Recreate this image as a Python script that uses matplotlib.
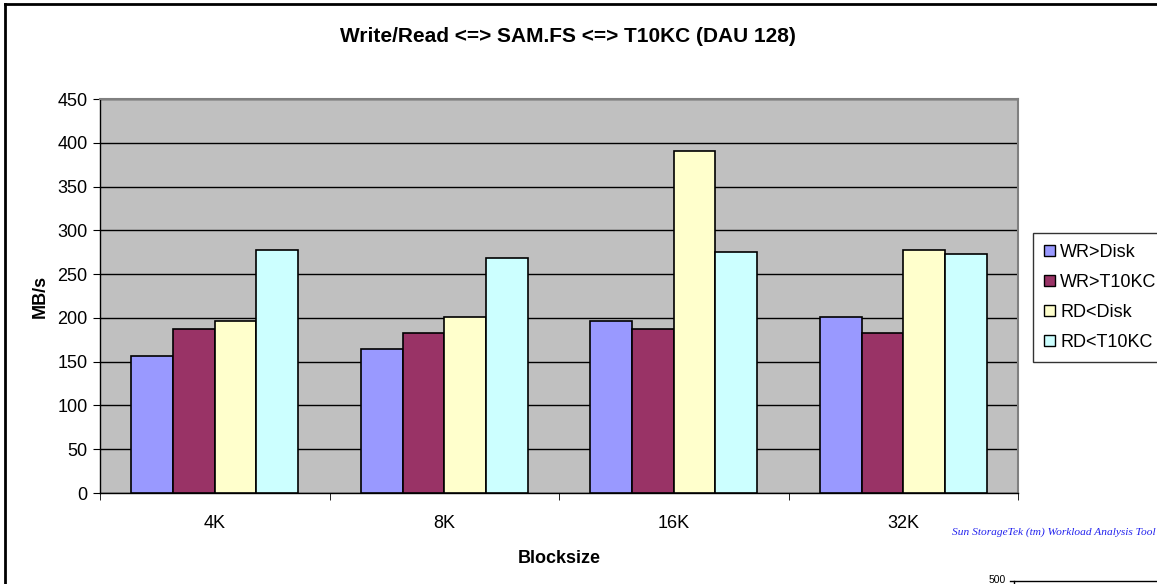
import matplotlib
matplotlib.use("Agg")
import matplotlib.pyplot as plt
import numpy as np
from matplotlib.lines import Line2D
from matplotlib.patches import Patch

plt.rcParams['font.family'] = ['Liberation Sans', 'DejaVu Sans']

# Throughput by block size (MB/s)
blocksizes = ["4K", "8K", "16K", "32K"]
series_names = ["WR>Disk", "WR>T10KC", "RD<Disk", "RD<T10KC"]
wr_disk = [157, 164, 196, 201]
wr_t10kc = [187, 183, 187, 183]
rd_disk = [196, 201, 391, 278]
rd_t10kc = [278, 268, 275, 273]
series_values = [wr_disk, wr_t10kc, rd_disk, rd_t10kc]
series_colors = ["#9999FF", "#993366", "#FFFFCC", "#CCFFFF"]
y_ticks = list(range(0, 451, 50))

W, H = 1157, 584
fig = plt.figure(figsize=(W / 100, H / 100), dpi=100)
ax = fig.add_axes([100 / W, 1 - 493 / H, (1018 - 100) / W, (493 - 99) / H])
ax.set_facecolor("#C0C0C0")

n = len(series_names)
bar_w = 1 / 5.5  # 150% gap width
x = np.arange(len(blocksizes))
for i, (vals, col) in enumerate(zip(series_values, series_colors)):
    offs = (i - (n - 1) / 2) * bar_w
    ax.bar(x + offs, vals, width=bar_w, color=col, edgecolor="black",
           linewidth=1.2, zorder=3, label=series_names[i])

ax.set_xlim(-0.5, len(blocksizes) - 0.5)
ax.set_ylim(0, 450)
ax.set_yticks(y_ticks)
ax.yaxis.grid(True, color="black", linewidth=1.0, zorder=1)
ax.set_axisbelow(True)

ax.set_xticks(x)
ax.set_xticklabels(blocksizes, fontsize=13)
ax.set_xticks(np.arange(len(blocksizes) + 1) - 0.5, minor=True)
ax.tick_params(axis="x", which="major", length=0, pad=16)
ax.tick_params(axis="x", which="minor", length=5, direction="out", color="black")
ax.tick_params(axis="y", length=5, direction="out", labelsize=13, pad=4)

for s in ("top", "right"):
    ax.spines[s].set_color("#808080")
    ax.spines[s].set_linewidth(1.5)
for s in ("left", "bottom"):
    ax.spines[s].set_color("black")
    ax.spines[s].set_linewidth(1.0)

ax.set_xlabel("Blocksize", fontsize=13, fontweight="bold", labelpad=13)
ax.set_ylabel("MB/s", fontsize=13, fontweight="bold", labelpad=6)

fig.text(568 / W, 1 - 36 / H, "Write/Read <=> SAM.FS <=> T10KC (DAU 128)",
         ha="center", va="center", fontsize=15, fontweight="bold")

# Legend
handles = [Patch(facecolor=c, edgecolor="black", linewidth=1.0) for c in series_colors]
leg = fig.legend(handles, series_names, loc="upper left",
                 bbox_to_anchor=(1033 / W, 1 - 233 / H), fontsize=13,
                 frameon=True, fancybox=False, handlelength=0.6, handleheight=0.6,
                 handletextpad=0.3, labelspacing=0.72, borderpad=0.6,
                 borderaxespad=0)
leg.get_frame().set_edgecolor("black")
leg.get_frame().set_linewidth(1.0)

# Tool credit
fig.text(1156 / W, 1 - 532 / H, "Sun StorageTek (tm) Workload Analysis Tool",
         ha="right", va="center", fontsize=8.2, style="italic",
         family="Liberation Serif", color="#2222EE")

# Chart border (left and top edges)
fig.add_artist(Line2D([5 / W, 5 / W], [0, 1 - 4 / H], color="black",
                      linewidth=2, transform=fig.transFigure))
fig.add_artist(Line2D([5 / W, 1], [1 - 4 / H, 1 - 4 / H], color="black",
                      linewidth=2, transform=fig.transFigure))

# Top edge of the next chart below
fig.text(1006 / W, 1 - 580 / H, "500", ha="right", va="center", fontsize=7.5)
fig.add_artist(Line2D([1010 / W, 1], [1 - 581 / H, 1 - 581 / H], color="black",
                      linewidth=1, transform=fig.transFigure))
fig.add_artist(Line2D([1014 / W, 1014 / W], [0, 1 - 581 / H], color="black",
                      linewidth=1, transform=fig.transFigure))

fig.savefig("out.png", dpi=100)
